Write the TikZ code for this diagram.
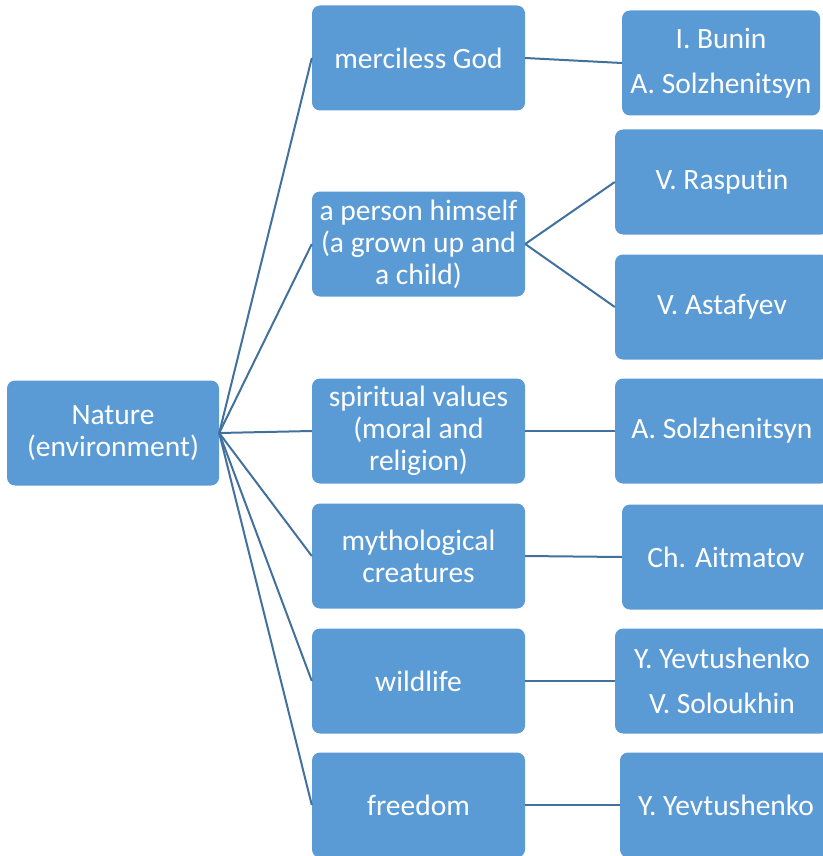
\documentclass[tikz,border=0pt]{standalone}
\usepackage{fontspec}
\setmainfont{Carlito}[Ligatures=NoCommon]
\usetikzlibrary{positioning}
\definecolor{boxblue}{HTML}{5B9BD5}
\definecolor{linkblue}{HTML}{41719C}

\begin{document}
\begin{tikzpicture}[
  x=1pt, y=-1pt,
  font=\fontsize{29.5}{32}\selectfont,
  topic/.style={
    rounded corners=8pt, fill=boxblue, text=white, align=center,
    minimum width=213pt, minimum height=105pt, inner sep=2pt
  },
  writer/.style={topic, minimum width=#1},
  link/.style={draw=linkblue, line width=2pt}
]
  \useasboundingbox (0,0) rectangle (822,856);
  % root
  \node[topic, minimum width=212pt] (nature) at (113,433) {Nature\\(environment)};
  % themes
  \node[topic] (god) at (418.5,58) {merciless God};
  \node[topic] (person) at (418.5,244) {a person himself\\(a grown up and\\a child)};
  \node[topic] (values) at (418.5,431) {spiritual values\\(moral and\\religion)};
  \node[topic] (myth) at (418.5,556) {mythological\\creatures};
  \node[topic] (wild) at (418.5,681) {wildlife};
  \node[topic] (free) at (418.5,805) {freedom};
  % writers
  \node[writer=198pt] (bunin) at (721,63) {I. Bunin\\[13pt]A. Solzhenitsyn};
  \node[writer=214pt] (rasputin) at (722,182) {V. Rasputin};
  \node[writer=214pt] (astafyev) at (722,307) {V. Astafyev};
  \node[writer=214pt] (solzh) at (722,431) {A. Solzhenitsyn};
  \node[writer=208pt] (aitmatov) at (726,557) {Ch. Aitmatov};
  \node[writer=214pt] (yevsol) at (722,681) {Y. Yevtushenko\\[13pt]V. Soloukhin};
  \node[writer=212pt] (yevt) at (726,805) {Y. Yevtushenko};
  % links
  \foreach \t in {god, person, values, myth, wild, free}
    \draw[link] (nature.east) -- (\t.west);
  \draw[link] (god.east) -- (bunin.west);
  \draw[link] (person.east) -- (rasputin.west);
  \draw[link] (person.east) -- (astafyev.west);
  \draw[link] (values.east) -- (solzh.west);
  \draw[link] (myth.east) -- (aitmatov.west);
  \draw[link] (wild.east) -- (yevsol.west);
  \draw[link] (free.east) -- (yevt.west);
\end{tikzpicture}
\end{document}
